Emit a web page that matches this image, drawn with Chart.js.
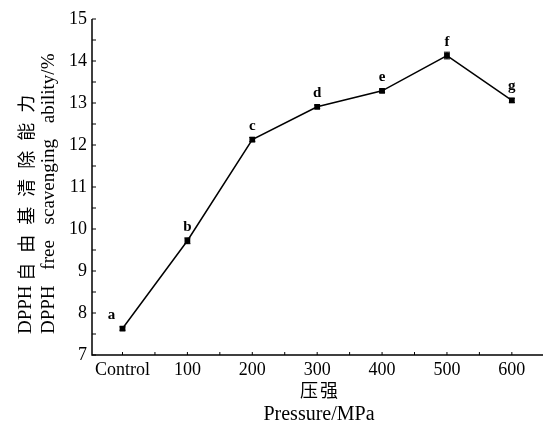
<!DOCTYPE html>
<html>
<head>
<meta charset="utf-8">
<script src="https://cdn.jsdelivr.net/npm/chart.js@4/dist/chart.umd.min.js"></script>
<style>
html,body{margin:0;padding:0;background:#fff;}
#wrap{width:543px;height:426px;}
</style>
</head>
<body>
<div id="wrap"><canvas id="c" width="543" height="426"></canvas></div>
<script>
const categories = ['Control', '100', '200', '300', '400', '500', '600'];
const dpphValues = [7.63, 9.72, 12.13, 12.91, 13.29, 14.13, 13.06];
const dpphErrors = [0.04, 0.07, 0.05, 0.04, 0.04, 0.08, 0.05];
const letters = ['a', 'b', 'c', 'd', 'e', 'f', 'g'];
const yTicks = [7, 8, 9, 10, 11, 12, 13, 14, 15];

const SERIF = '"Liberation Serif", "Times New Roman", serif';
const CJK = '"Noto Sans CJK SC", serif';

function spacedText(ctx, parts, x, y) {
  let cx = x;
  parts.forEach(p => {
    ctx.font = p.font;
    for (const ch of p.chars) {
      ctx.fillText(ch, cx, y);
      cx += ctx.measureText(ch).width + p.gap;
    }
  });
  return cx;
}

const extras = {
  id: 'extras',
  afterDatasetsDraw(chart) {
    const ctx = chart.ctx;
    const xs = chart.scales.x, ys = chart.scales.y;
    const area = chart.chartArea;
    ctx.save();
    ctx.strokeStyle = '#000';
    ctx.lineWidth = 1.5;
    ctx.beginPath();
    ctx.moveTo(area.left, area.top);
    ctx.lineTo(area.left, area.bottom);
    ctx.lineTo(area.right, area.bottom);
    ctx.stroke();
    ctx.lineWidth = 1;
    for (let v = 7; v <= 15.001; v += 0.5) {
      const py = ys.getPixelForValue(v);
      ctx.beginPath();
      ctx.moveTo(area.left, py);
      ctx.lineTo(area.left + 4, py);
      ctx.stroke();
    }
    for (let v = 0; v <= 6.5; v += 0.5) {
      const px = xs.getPixelForValue(v);
      if (px > area.right) continue;
      ctx.beginPath();
      ctx.moveTo(px, area.bottom);
      ctx.lineTo(px, area.bottom - 3);
      ctx.stroke();
    }
    dpphValues.forEach((v, i) => {
      const px = xs.getPixelForValue(i);
      const hi = ys.getPixelForValue(v + dpphErrors[i]);
      const lo = ys.getPixelForValue(v - dpphErrors[i]);
      ctx.beginPath();
      ctx.moveTo(px, hi); ctx.lineTo(px, lo);
      ctx.moveTo(px - 3, hi); ctx.lineTo(px + 3, hi);
      ctx.moveTo(px - 3, lo); ctx.lineTo(px + 3, lo);
      ctx.stroke();
    });
    ctx.fillStyle = '#000';
    ctx.font = 'bold 15px ' + SERIF;
    ctx.textAlign = 'center';
    ctx.textBaseline = 'alphabetic';
    const meta = chart.getDatasetMeta(0);
    meta.data.forEach((pt, i) => {
      const dx = i === 0 ? -11 : 0;
      ctx.fillText(letters[i], pt.x + dx, pt.y - 10);
    });
    ctx.textBaseline = 'middle';
    ctx.textAlign = 'left';
    spacedText(ctx, [{ chars: '压强', font: '18px ' + CJK, gap: 2 }], 300, 390);
    ctx.textAlign = 'center';
    ctx.font = '20px ' + SERIF;
    ctx.fillText('Pressure/MPa', 319, 415);
    ctx.rotate(-Math.PI / 2);
    ctx.textAlign = 'left';
    spacedText(ctx, [
      { chars: 'DPPH ', font: '19px ' + SERIF, gap: 0 },
      { chars: '自由基清除能力', font: '18px ' + CJK, gap: 10 }
    ], -334, 26);
    spacedText(ctx, [
      { chars: 'DPPH', font: '19px ' + SERIF, gap: 0 },
      { chars: ' ', font: '19px ' + SERIF, gap: 11 },
      { chars: 'free', font: '19px ' + SERIF, gap: 0 },
      { chars: ' ', font: '19px ' + SERIF, gap: 11 },
      { chars: 'scavenging', font: '19px ' + SERIF, gap: 0 },
      { chars: ' ', font: '19px ' + SERIF, gap: 11 },
      { chars: 'ability/%', font: '19px ' + SERIF, gap: 0 }
    ], -334, 49);
    ctx.restore();
  }
};

new Chart(document.getElementById('c'), {
  type: 'line',
  data: {
    datasets: [{
      data: dpphValues.map((v, i) => ({ x: i, y: v })),
      borderColor: '#000',
      backgroundColor: '#000',
      borderWidth: 1.5,
      pointRadius: 3,
      pointStyle: 'rect',
      pointBackgroundColor: '#000',
      tension: 0,
      fill: false
    }]
  },
  options: {
    responsive: false,
    animation: false,
    layout: { autoPadding: false, padding: { top: 19, right: 0, left: 0, bottom: 0 } },
    plugins: { legend: { display: false }, tooltip: { enabled: false } },
    scales: {
      x: {
        type: 'linear',
        min: -0.47,
        max: 6.48,
        afterBuildTicks(scale) {
          scale.ticks = categories.map((c, i) => ({ value: i }));
        },
        afterFit(scale) {
          scale.height = 71;
          scale.paddingLeft = 0;
          scale.paddingRight = 0;
        },
        grid: { display: false, drawTicks: false },
        border: { display: false },
        ticks: {
          callback: (v) => categories[v] ?? '',
          color: '#000',
          font: { family: SERIF, size: 18 },
          padding: 4,
          maxRotation: 0,
          autoSkip: false
        }
      },
      y: {
        min: 7,
        max: 15,
        afterBuildTicks(scale) {
          scale.ticks = yTicks.map(v => ({ value: v }));
        },
        afterFit(scale) { scale.width = 92; },
        grid: { display: false, drawTicks: false },
        border: { display: false },
        ticks: {
          color: '#000',
          font: { family: SERIF, size: 18 },
          padding: 5
        }
      }
    }
  },
  plugins: [extras]
});
</script>
</body>
</html>
